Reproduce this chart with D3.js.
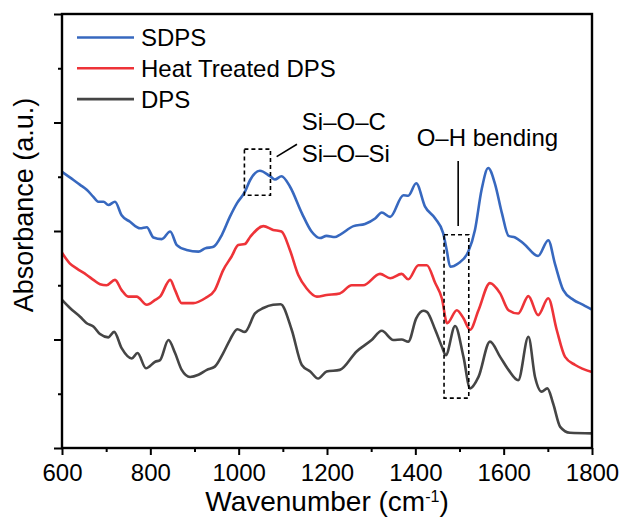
<!DOCTYPE html>
<html>
<head>
<meta charset="utf-8">
<script src="https://cdn.jsdelivr.net/npm/d3@7"></script>
<style>
  body { margin: 0; background: #fff; }
  text { font-family: "Liberation Sans", Arial, sans-serif; fill: #000; }
</style>
</head>
<body>
<div id="chart"></div>
<script>
// series names and colours
const seriesNames = ["SDPS", "Heat Treated DPS", "DPS"];
const seriesColors = ["#3768bf", "#ee3338", "#454545"];

// [wavenumber, absorbance]
const sdps = [[600,5.09],[626,4.94],[641,4.85],[656,4.76],[671,4.63],[682,4.54],[694,4.54],[705,4.48],[720,4.54],[735,4.29],[754,4.17],[777,4.05],[792,4.07],[807,3.88],[826,3.85],[845,3.99],[860,3.74],[882,3.65],[909,3.62],[924,3.68],[943,3.71],[962,3.93],[980,4.26],[996,4.51],[1014,4.72],[1026,4.94],[1048,5.11],[1071,5.01],[1082,4.95],[1097,5.01],[1116,4.82],[1143,4.33],[1165,3.99],[1184,3.87],[1199,3.91],[1218,3.89],[1229,3.93],[1260,4.09],[1286,4.13],[1309,4.23],[1324,4.34],[1343,4.26],[1373,4.66],[1384,4.65],[1402,4.88],[1422,4.45],[1445,4.23],[1463,3.96],[1471,3.65],[1479,3.34],[1497,3.40],[1520,3.62],[1535,4.02],[1550,4.76],[1565,5.16],[1580,4.88],[1596,4.33],[1611,3.91],[1626,3.88],[1645,3.77],[1678,3.54],[1701,3.83],[1716,3.40],[1735,2.91],[1758,2.73],[1780,2.64],[1800,2.55]];

const heatDps = [[600,3.60],[618,3.40],[633,3.31],[656,3.19],[671,3.10],[686,3.02],[701,3.00],[720,3.10],[735,2.91],[750,2.79],[769,2.79],[792,2.64],[811,2.73],[822,2.79],[845,3.10],[856,2.91],[871,2.67],[897,2.67],[924,2.76],[946,2.91],[965,3.28],[984,3.53],[999,3.74],[1014,3.76],[1026,3.89],[1056,4.09],[1078,4.02],[1097,3.99],[1116,3.65],[1135,3.19],[1154,2.94],[1177,2.79],[1199,2.82],[1229,2.85],[1256,3.00],[1282,3.00],[1320,3.21],[1343,3.13],[1369,3.21],[1384,3.11],[1407,3.37],[1426,3.37],[1445,3.04],[1460,2.76],[1472,2.30],[1494,2.54],[1509,2.39],[1524,2.18],[1543,2.54],[1569,3.04],[1592,2.85],[1611,2.54],[1633,2.48],[1656,2.80],[1678,2.45],[1701,2.76],[1720,2.18],[1739,1.68],[1762,1.53],[1800,1.40]];

const dps = [[600,2.73],[618,2.58],[641,2.42],[656,2.30],[671,2.24],[686,2.10],[705,2.04],[718,2.14],[735,1.84],[758,1.65],[771,1.75],[790,1.47],[811,1.59],[822,1.62],[841,1.99],[856,1.75],[871,1.44],[890,1.31],[909,1.35],[928,1.44],[946,1.50],[965,1.75],[980,1.99],[997,2.19],[1014,2.14],[1037,2.48],[1056,2.58],[1078,2.64],[1095,2.65],[1120,2.18],[1143,1.53],[1162,1.41],[1180,1.28],[1199,1.41],[1229,1.44],[1267,1.78],[1301,1.99],[1324,2.16],[1350,1.99],[1369,2.00],[1384,1.96],[1402,2.39],[1418,2.53],[1426,2.51],[1445,2.18],[1460,1.87],[1469,1.71],[1490,2.25],[1509,1.68],[1524,1.10],[1543,1.31],[1569,1.96],[1592,1.68],[1611,1.44],[1633,1.25],[1656,2.05],[1671,1.31],[1686,1.04],[1699,1.10],[1712,0.82],[1728,0.39],[1750,0.28],[1800,0.27]];

// axis ticks
const xMajorTicks = [600, 800, 1000, 1200, 1400, 1600, 1800];
const xMinorTicks = [700, 900, 1100, 1300, 1500, 1700];
const yMajorTicks = [0, 2, 4, 6, 8];
const yMinorTicks = [1, 3, 5, 7];

// annotations (data units)
const siBox = [1013, 1072, 4.66, 5.51];        // x0, x1, y0, y1
const siLeader = [[1086, 5.37], [1132, 5.60]];
const siLabels = [["Si\u2013O\u2013C", 1143, 5.86], ["Si\u2013O\u2013Si", 1143, 5.27]];
const ohBox = [1465, 1521, 0.92, 3.93];
const ohLeader = [[1497, 4.09], [1497, 5.29]];
const ohLabel = ["O\u2013H bending", 1403, 5.57];

const W = 620, H = 517;
const margin = {top: 14, right: 28, bottom: 69, left: 62};

const svg = d3.select("#chart").append("svg")
    .attr("width", W)
    .attr("height", H);

const x = d3.scaleLinear().domain([600, 1800]).range([margin.left, W - margin.right]);
const y = d3.scaleLinear().domain([0, 8]).range([H - margin.bottom, margin.top]);

// curves
const line = d3.line()
    .x(d => x(d[0]))
    .y(d => y(d[1]))
    .curve(d3.curveMonotoneX);

const allSeries = [sdps, heatDps, dps];
svg.append("g").selectAll("path")
    .data(allSeries)
    .enter().append("path")
    .attr("d", line)
    .attr("fill", "none")
    .attr("stroke", (d, i) => seriesColors[i])
    .attr("stroke-width", 2.6)
    .attr("stroke-linejoin", "round");

// axes
const xAxis = svg.append("g")
    .attr("transform", "translate(0," + y(0) + ")")
    .call(d3.axisBottom(x).tickValues(xMajorTicks).tickSize(7).tickPadding(9).tickFormat(d3.format("d")));
svg.append("g")
    .attr("transform", "translate(0," + y(0) + ")")
    .call(d3.axisBottom(x).tickValues(xMinorTicks).tickSize(4).tickFormat(""));
svg.append("g")
    .attr("transform", "translate(" + x(600) + ",0)")
    .call(d3.axisLeft(y).tickValues(yMajorTicks).tickSize(8).tickFormat(""));
svg.append("g")
    .attr("transform", "translate(" + x(600) + ",0)")
    .call(d3.axisLeft(y).tickValues(yMinorTicks).tickSize(4).tickFormat(""));

svg.selectAll(".domain").remove();
svg.selectAll(".tick line").attr("stroke", "#000").attr("stroke-width", 2);
xAxis.selectAll(".tick text").style("font-size", "24px").attr("fill", "#000");

// frame
svg.append("rect")
    .attr("x", x(600))
    .attr("y", y(8))
    .attr("width", x(1800) - x(600))
    .attr("height", y(0) - y(8))
    .attr("fill", "none")
    .attr("stroke", "#000")
    .attr("stroke-width", 2.4);

// axis titles
const xTitle = svg.append("text")
    .attr("x", (x(600) + x(1800)) / 2)
    .attr("y", 511)
    .attr("text-anchor", "middle")
    .style("font-size", "28px");
xTitle.append("tspan").text("Wavenumber (cm");
xTitle.append("tspan").text("-1").attr("dy", -9).style("font-size", "16px");
xTitle.append("tspan").text(")").attr("dy", 9);

svg.append("text")
    .attr("transform", "translate(33," + 205 + ") rotate(-90)")
    .attr("text-anchor", "middle")
    .style("font-size", "27px")
    .text("Absorbance (a.u.)");

// legend
const legend = svg.append("g");
seriesNames.forEach((name, i) => {
    const ly = 37.5 + i * 30.8;
    legend.append("line")
        .attr("x1", 77).attr("x2", 134)
        .attr("y1", ly).attr("y2", ly)
        .attr("stroke", seriesColors[i])
        .attr("stroke-width", 2.6);
    legend.append("text")
        .attr("x", 141)
        .attr("y", ly)
        .attr("dy", "0.36em")
        .style("font-size", "24px")
        .text(name);
});

// annotations
const ann = svg.append("g");
function dashedBox(b) {
    ann.append("rect")
        .attr("x", x(b[0]))
        .attr("y", y(b[3]))
        .attr("width", x(b[1]) - x(b[0]))
        .attr("height", y(b[2]) - y(b[3]))
        .attr("fill", "none")
        .attr("stroke", "#000")
        .attr("stroke-width", 1.6)
        .attr("stroke-dasharray", "4,3");
}
dashedBox(siBox);
dashedBox(ohBox);

[siLeader, ohLeader].forEach(l => {
    ann.append("line")
        .attr("x1", x(l[0][0])).attr("y1", y(l[0][1]))
        .attr("x2", x(l[1][0])).attr("y2", y(l[1][1]))
        .attr("stroke", "#000")
        .attr("stroke-width", 1.6);
});

siLabels.concat([ohLabel]).forEach(t => {
    ann.append("text")
        .attr("x", x(t[1]))
        .attr("y", y(t[2]))
        .style("font-size", "24px")
        .text(t[0]);
});
</script>
</body>
</html>
